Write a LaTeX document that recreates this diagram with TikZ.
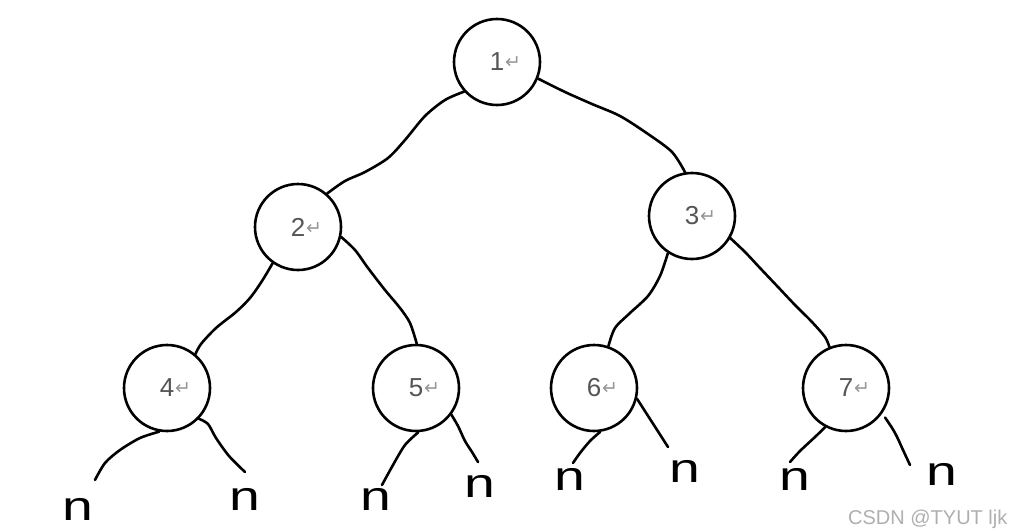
\documentclass[tikz,border=0pt]{standalone}
\usepackage{fontspec}
\setmainfont{Liberation Sans}
\newfontfamily\arrowfont{DejaVu Sans}
\newfontfamily\leaffont[FakeStretch=1.35]{Liberation Sans}
\definecolor{LabelClr}{RGB}{85,85,85}
\definecolor{MarkClr}{RGB}{150,150,150}
\definecolor{WaterClr}{RGB}{175,175,175}
\newcommand{\keylabel}[1]{#1\rlap{\hspace{1pt}\arrowfont\fontsize{19}{19}\selectfont\color{MarkClr}\raisebox{2pt}{↵}}}

\begin{document}
\begin{tikzpicture}[x=1pt,y=-1pt,
  keynode/.style={circle,draw,line width=2.6pt,minimum size=86pt,inner sep=0pt,
    font=\fontsize{26}{26}\selectfont,text=LabelClr},
  twig/.style={line width=2.6pt,line cap=round,line join=round},
  leaf/.style={font=\leaffont\fontsize{41}{41}\selectfont,inner sep=0pt,anchor=base}]
\useasboundingbox (0,0) rectangle (1022,530);

\node[keynode] (c1) at (497,62) {\keylabel{1}};
\node[keynode] (c2) at (298,227) {\keylabel{2}};
\node[keynode] (c3) at (692,216) {\keylabel{3}};
\node[keynode] (c4) at (167,388) {\keylabel{4}};
\node[keynode] (c5) at (416,388) {\keylabel{5}};
\node[keynode] (c6) at (594,388) {\keylabel{6}};
\node[keynode] (c7) at (846,388) {\keylabel{7}};

\node[leaf] (n41) at (78,520) {n};
\node[leaf] (n42) at (245,510) {n};
\node[leaf] (n51) at (376,510) {n};
\node[leaf] (n52) at (480,497) {n};
\node[leaf] (n61) at (570,490) {n};
\node[leaf] (n62) at (685,482) {n};
\node[leaf] (n71) at (795,490) {n};
\node[leaf] (n72) at (942,485) {n};

\coordinate (e41) at (95,480);
\coordinate (e42) at (245,472);
\coordinate (e51) at (382,485);
\coordinate (e52) at (478,462);
\coordinate (e61) at (573,463);
\coordinate (e62) at (668,447);
\coordinate (e71) at (790,462);
\coordinate (e72) at (910,465);

\draw[twig] plot[smooth] coordinates {(c1.222) (445,100) (425,116) (405,140) (388,158) (365,172) (345,181) (c2.49)};
\draw[twig] plot[smooth] coordinates {(c1.338) (565,92) (592,104) (620,116) (648,134) (672,152) (c3.99)};
\draw[twig] plot[smooth] coordinates {(c2.235) (262,281) (250,298) (236,312) (216,328) (201,344) (c4.50)};
\draw[twig] plot[smooth] coordinates {(c2.347) (355,250) (368,268) (385,290) (400,308) (410,323) (c5.89)};
\draw[twig] plot[smooth] coordinates {(c3.237) (660,276) (648,296) (630,313) (615,328) (c6.71)};
\draw[twig] plot[smooth] coordinates {(c3.330) (745,252) (760,268) (778,287) (795,305) (812,322) (825,337) (c7.112)};

\draw[twig] plot[smooth] coordinates {(c4.260) (140,438) (120,450) (105,463) (e41)};
\draw[twig] plot[smooth] coordinates {(c4.316) (208,424) (216,438) (229,456) (e42)};
\draw[twig] plot[smooth] coordinates {(c5.273) (405,445) (393,465) (e51)};
\draw[twig] plot[smooth] coordinates {(c5.323) (458,426) (465,441) (472,452) (e52)};
\draw[twig] plot[smooth] coordinates {(c6.278) (590,441) (580,453) (e61)};
\draw[twig] (c6.346) -- (e62);
\draw[twig] plot[smooth] coordinates {(c7.242) (815,437) (800,451) (e71)};
\draw[twig,shorten <=5pt] plot[smooth] coordinates {(c7.325) (895,433) (903,450) (e72)};

\node[font=\fontsize{20}{20}\selectfont,text=WaterClr,anchor=base west,inner sep=0pt] (mark) at (848,524) {CSDN @TYUT ljk};
\end{tikzpicture}
\end{document}
